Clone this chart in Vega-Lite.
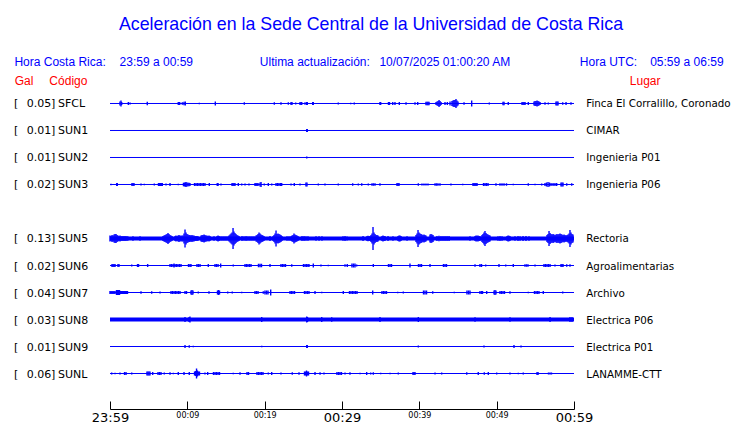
{
"$schema": "https://vega.github.io/schema/vega-lite/v6.json",
"width": 464, "height": 333,
"autosize": {"type": "none"},
"padding": {"left": 110, "top": 76, "right": 166, "bottom": 14},
"background": "white",
"config": {"view": {"stroke": null}, "font": "DejaVu Sans"},
"title": {"text": "Aceleración en la Sede Central de la Universidad de Costa Rica", "font": "Liberation Sans", "fontSize": 17.8, "fontWeight": "normal", "color": "#0000ff", "anchor": "middle", "dx": 29, "offset": 8, "baseline": "alphabetic"},
"datasets": {
"stations": [
{"code":"SFCL","gal":0.05,"lugar":"Finca El Corralillo, Coronado","slot":1,"noise":0.006},
{"code":"SUN1","gal":0.01,"lugar":"CIMAR","slot":2,"noise":0.006},
{"code":"SUN2","gal":0.01,"lugar":"Ingenieria P01","slot":3,"noise":0.006},
{"code":"SUN3","gal":0.02,"lugar":"Ingenieria P06","slot":4,"noise":0.006},
{"code":"SUN5","gal":0.13,"lugar":"Rectoria","slot":6,"noise":0.024},
{"code":"SUN6","gal":0.02,"lugar":"Agroalimentarias","slot":7,"noise":0.006},
{"code":"SUN7","gal":0.04,"lugar":"Archivo","slot":8,"noise":0.006},
{"code":"SUN8","gal":0.03,"lugar":"Electrica P06","slot":9,"noise":0.024},
{"code":"SUN9","gal":0.01,"lugar":"Electrica P01","slot":10,"noise":0.006},
{"code":"SUNL","gal":0.06,"lugar":"LANAMME-CTT","slot":11,"noise":0.006}
],
"wave": [
{"code":"SFCL","t":1.29,"amp":0.024},{"code":"SFCL","t":1.42,"amp":0.036},{"code":"SFCL","t":1.51,"amp":0.018},{"code":"SFCL","t":2.37,"amp":0.018},{"code":"SFCL","t":2.59,"amp":0.012},{"code":"SFCL","t":4.82,"amp":0.021},{"code":"SFCL","t":8.83,"amp":0.018},{"code":"SFCL","t":9.01,"amp":0.018},{"code":"SFCL","t":9.35,"amp":0.015},{"code":"SFCL","t":9.57,"amp":0.021},{"code":"SFCL","t":9.74,"amp":0.024},{"code":"SFCL","t":11.55,"amp":0.009},{"code":"SFCL","t":13.62,"amp":0.024},{"code":"SFCL","t":17.37,"amp":0.015},{"code":"SFCL","t":21.25,"amp":0.015},{"code":"SFCL","t":22.11,"amp":0.015},{"code":"SFCL","t":23.06,"amp":0.015},{"code":"SFCL","t":23.41,"amp":0.018},{"code":"SFCL","t":23.53,"amp":0.018},{"code":"SFCL","t":24.01,"amp":0.012},{"code":"SFCL","t":24.57,"amp":0.018},{"code":"SFCL","t":24.7,"amp":0.018},{"code":"SFCL","t":24.79,"amp":0.018},{"code":"SFCL","t":25.22,"amp":0.015},{"code":"SFCL","t":25.44,"amp":0.018},{"code":"SFCL","t":25.51,"amp":0.018},{"code":"SFCL","t":26.21,"amp":0.018},{"code":"SFCL","t":26.29,"amp":0.018},{"code":"SFCL","t":29.52,"amp":0.012},{"code":"SFCL","t":31.12,"amp":0.009},{"code":"SFCL","t":31.59,"amp":0.012},{"code":"SFCL","t":34.91,"amp":0.018},{"code":"SFCL","t":35.0,"amp":0.018},{"code":"SFCL","t":36.01,"amp":0.018},{"code":"SFCL","t":36.14,"amp":0.018},{"code":"SFCL","t":36.56,"amp":0.018},{"code":"SFCL","t":36.85,"amp":0.018},{"code":"SFCL","t":37.41,"amp":0.018},{"code":"SFCL","t":38.28,"amp":0.015},{"code":"SFCL","t":39.44,"amp":0.015},{"code":"SFCL","t":39.79,"amp":0.018},{"code":"SFCL","t":40.86,"amp":0.021},{"code":"SFCL","t":41.0,"amp":0.021},{"code":"SFCL","t":41.12,"amp":0.021},{"code":"SFCL","t":41.25,"amp":0.021},{"code":"SFCL","t":42.16,"amp":0.018},{"code":"SFCL","t":42.29,"amp":0.024},{"code":"SFCL","t":42.42,"amp":0.03},{"code":"SFCL","t":42.55,"amp":0.042},{"code":"SFCL","t":42.68,"amp":0.03},{"code":"SFCL","t":42.81,"amp":0.018},{"code":"SFCL","t":43.32,"amp":0.018},{"code":"SFCL","t":43.62,"amp":0.018},{"code":"SFCL","t":43.97,"amp":0.024},{"code":"SFCL","t":44.22,"amp":0.03},{"code":"SFCL","t":44.35,"amp":0.036},{"code":"SFCL","t":44.48,"amp":0.042},{"code":"SFCL","t":44.61,"amp":0.042},{"code":"SFCL","t":44.74,"amp":0.054},{"code":"SFCL","t":44.87,"amp":0.036},{"code":"SFCL","t":45.0,"amp":0.024},{"code":"SFCL","t":45.78,"amp":0.015},{"code":"SFCL","t":46.77,"amp":0.036},{"code":"SFCL","t":49.05,"amp":0.012},{"code":"SFCL","t":50.82,"amp":0.021},{"code":"SFCL","t":50.95,"amp":0.021},{"code":"SFCL","t":51.5,"amp":0.018},{"code":"SFCL","t":53.28,"amp":0.018},{"code":"SFCL","t":53.41,"amp":0.018},{"code":"SFCL","t":53.54,"amp":0.018},{"code":"SFCL","t":53.67,"amp":0.018},{"code":"SFCL","t":54.09,"amp":0.018},{"code":"SFCL","t":54.83,"amp":0.024},{"code":"SFCL","t":54.96,"amp":0.03},{"code":"SFCL","t":55.09,"amp":0.03},{"code":"SFCL","t":55.22,"amp":0.036},{"code":"SFCL","t":55.35,"amp":0.03},{"code":"SFCL","t":55.48,"amp":0.024},{"code":"SFCL","t":55.61,"amp":0.018},{"code":"SFCL","t":56.25,"amp":0.015},{"code":"SFCL","t":56.68,"amp":0.012},{"code":"SFCL","t":57.67,"amp":0.024},{"code":"SFCL","t":57.8,"amp":0.024},{"code":"SFCL","t":57.93,"amp":0.024},{"code":"SFCL","t":58.54,"amp":0.015},{"code":"SFCL","t":58.97,"amp":0.018},{"code":"SFCL","t":59.61,"amp":0.015},
{"code":"SUN1","t":25.44,"amp":0.018},{"code":"SUN1","t":25.51,"amp":0.018},
{"code":"SUN2","t":25.44,"amp":0.012},
{"code":"SUN3","t":0.13,"amp":0.009},{"code":"SUN3","t":0.87,"amp":0.018},{"code":"SUN3","t":0.94,"amp":0.018},{"code":"SUN3","t":2.84,"amp":0.018},{"code":"SUN3","t":2.97,"amp":0.018},{"code":"SUN3","t":3.1,"amp":0.018},{"code":"SUN3","t":4.01,"amp":0.012},{"code":"SUN3","t":4.44,"amp":0.009},{"code":"SUN3","t":5.73,"amp":0.012},{"code":"SUN3","t":6.27,"amp":0.018},{"code":"SUN3","t":6.4,"amp":0.018},{"code":"SUN3","t":6.53,"amp":0.018},{"code":"SUN3","t":6.66,"amp":0.018},{"code":"SUN3","t":6.76,"amp":0.018},{"code":"SUN3","t":7.24,"amp":0.012},{"code":"SUN3","t":7.76,"amp":0.018},{"code":"SUN3","t":8.83,"amp":0.009},{"code":"SUN3","t":9.5,"amp":0.021},{"code":"SUN3","t":9.63,"amp":0.024},{"code":"SUN3","t":9.76,"amp":0.024},{"code":"SUN3","t":9.83,"amp":0.03},{"code":"SUN3","t":9.96,"amp":0.024},{"code":"SUN3","t":10.09,"amp":0.021},{"code":"SUN3","t":10.22,"amp":0.021},{"code":"SUN3","t":10.34,"amp":0.018},{"code":"SUN3","t":10.93,"amp":0.018},{"code":"SUN3","t":11.12,"amp":0.018},{"code":"SUN3","t":11.31,"amp":0.018},{"code":"SUN3","t":11.51,"amp":0.018},{"code":"SUN3","t":11.7,"amp":0.018},{"code":"SUN3","t":11.9,"amp":0.018},{"code":"SUN3","t":12.09,"amp":0.018},{"code":"SUN3","t":12.28,"amp":0.018},{"code":"SUN3","t":12.84,"amp":0.018},{"code":"SUN3","t":13.87,"amp":0.018},{"code":"SUN3","t":13.97,"amp":0.018},{"code":"SUN3","t":14.35,"amp":0.012},{"code":"SUN3","t":15.78,"amp":0.018},{"code":"SUN3","t":15.9,"amp":0.018},{"code":"SUN3","t":16.03,"amp":0.018},{"code":"SUN3","t":16.16,"amp":0.018},{"code":"SUN3","t":16.59,"amp":0.018},{"code":"SUN3","t":17.03,"amp":0.012},{"code":"SUN3","t":17.46,"amp":0.012},{"code":"SUN3","t":17.97,"amp":0.012},{"code":"SUN3","t":18.75,"amp":0.018},{"code":"SUN3","t":18.88,"amp":0.018},{"code":"SUN3","t":19.01,"amp":0.018},{"code":"SUN3","t":19.14,"amp":0.018},{"code":"SUN3","t":19.4,"amp":0.024},{"code":"SUN3","t":19.53,"amp":0.03},{"code":"SUN3","t":19.95,"amp":0.012},{"code":"SUN3","t":20.47,"amp":0.018},{"code":"SUN3","t":20.91,"amp":0.012},{"code":"SUN3","t":21.47,"amp":0.018},{"code":"SUN3","t":21.66,"amp":0.018},{"code":"SUN3","t":21.85,"amp":0.018},{"code":"SUN3","t":22.05,"amp":0.018},{"code":"SUN3","t":22.2,"amp":0.018},{"code":"SUN3","t":23.41,"amp":0.012},{"code":"SUN3","t":23.83,"amp":0.018},{"code":"SUN3","t":24.57,"amp":0.012},{"code":"SUN3","t":25.34,"amp":0.024},{"code":"SUN3","t":25.47,"amp":0.024},{"code":"SUN3","t":26.94,"amp":0.012},{"code":"SUN3","t":27.8,"amp":0.012},{"code":"SUN3","t":29.52,"amp":0.012},{"code":"SUN3","t":31.38,"amp":0.015},{"code":"SUN3","t":32.11,"amp":0.012},{"code":"SUN3","t":32.55,"amp":0.015},{"code":"SUN3","t":33.4,"amp":0.012},{"code":"SUN3","t":33.88,"amp":0.015},{"code":"SUN3","t":34.07,"amp":0.015},{"code":"SUN3","t":34.27,"amp":0.015},{"code":"SUN3","t":34.91,"amp":0.015},{"code":"SUN3","t":37.11,"amp":0.018},{"code":"SUN3","t":37.24,"amp":0.018},{"code":"SUN3","t":37.37,"amp":0.018},{"code":"SUN3","t":39.87,"amp":0.015},{"code":"SUN3","t":40.34,"amp":0.012},{"code":"SUN3","t":40.6,"amp":0.012},{"code":"SUN3","t":40.86,"amp":0.012},{"code":"SUN3","t":41.12,"amp":0.012},{"code":"SUN3","t":42.03,"amp":0.015},{"code":"SUN3","t":42.22,"amp":0.015},{"code":"SUN3","t":42.41,"amp":0.015},{"code":"SUN3","t":42.67,"amp":0.015},{"code":"SUN3","t":44.09,"amp":0.012},{"code":"SUN3","t":45.61,"amp":0.009},{"code":"SUN3","t":46.94,"amp":0.018},{"code":"SUN3","t":47.07,"amp":0.018},{"code":"SUN3","t":47.2,"amp":0.018},{"code":"SUN3","t":47.33,"amp":0.018},{"code":"SUN3","t":47.46,"amp":0.018},{"code":"SUN3","t":48.3,"amp":0.018},{"code":"SUN3","t":48.49,"amp":0.018},{"code":"SUN3","t":48.68,"amp":0.018},{"code":"SUN3","t":48.88,"amp":0.018},{"code":"SUN3","t":49.91,"amp":0.015},{"code":"SUN3","t":50.43,"amp":0.015},{"code":"SUN3","t":50.69,"amp":0.015},{"code":"SUN3","t":50.95,"amp":0.015},{"code":"SUN3","t":51.27,"amp":0.015},{"code":"SUN3","t":52.15,"amp":0.009},{"code":"SUN3","t":54.09,"amp":0.015},{"code":"SUN3","t":54.96,"amp":0.009},{"code":"SUN3","t":55.82,"amp":0.012},{"code":"SUN3","t":56.25,"amp":0.018},{"code":"SUN3","t":56.44,"amp":0.024},{"code":"SUN3","t":56.64,"amp":0.03},{"code":"SUN3","t":56.83,"amp":0.024},{"code":"SUN3","t":57.03,"amp":0.018},{"code":"SUN3","t":57.29,"amp":0.018},{"code":"SUN3","t":57.54,"amp":0.018},{"code":"SUN3","t":57.76,"amp":0.018},{"code":"SUN3","t":58.32,"amp":0.024},{"code":"SUN3","t":58.45,"amp":0.024},{"code":"SUN3","t":58.58,"amp":0.024},{"code":"SUN3","t":59.06,"amp":0.015},{"code":"SUN3","t":59.7,"amp":0.015},
{"code":"SUN5","t":0.0,"amp":0.036},{"code":"SUN5","t":0.13,"amp":0.03},{"code":"SUN5","t":0.26,"amp":0.042},{"code":"SUN5","t":0.39,"amp":0.036},{"code":"SUN5","t":0.52,"amp":0.048},{"code":"SUN5","t":0.65,"amp":0.054},{"code":"SUN5","t":0.78,"amp":0.054},{"code":"SUN5","t":0.91,"amp":0.042},{"code":"SUN5","t":1.03,"amp":0.036},{"code":"SUN5","t":1.16,"amp":0.03},{"code":"SUN5","t":1.29,"amp":0.036},{"code":"SUN5","t":1.42,"amp":0.03},{"code":"SUN5","t":1.55,"amp":0.027},{"code":"SUN5","t":1.68,"amp":0.03},{"code":"SUN5","t":1.81,"amp":0.027},{"code":"SUN5","t":1.94,"amp":0.03},{"code":"SUN5","t":2.07,"amp":0.027},{"code":"SUN5","t":2.2,"amp":0.027},{"code":"SUN5","t":2.33,"amp":0.024},{"code":"SUN5","t":2.97,"amp":0.027},{"code":"SUN5","t":3.88,"amp":0.027},
{"code":"SUN5","t":6.85,"amp":0.03},{"code":"SUN5","t":6.98,"amp":0.036},{"code":"SUN5","t":7.11,"amp":0.042},{"code":"SUN5","t":7.24,"amp":0.048},{"code":"SUN5","t":7.37,"amp":0.054},{"code":"SUN5","t":7.5,"amp":0.066},{"code":"SUN5","t":7.63,"amp":0.054},{"code":"SUN5","t":7.76,"amp":0.042},{"code":"SUN5","t":7.89,"amp":0.036},{"code":"SUN5","t":8.02,"amp":0.03},{"code":"SUN5","t":8.41,"amp":0.03},{"code":"SUN5","t":8.53,"amp":0.036},{"code":"SUN5","t":8.66,"amp":0.03},{"code":"SUN5","t":8.79,"amp":0.036},{"code":"SUN5","t":8.92,"amp":0.042},{"code":"SUN5","t":9.05,"amp":0.036},{"code":"SUN5","t":9.18,"amp":0.033},{"code":"SUN5","t":9.31,"amp":0.036},{"code":"SUN5","t":9.44,"amp":0.036},{"code":"SUN5","t":9.57,"amp":0.06},{"code":"SUN5","t":9.7,"amp":0.108},{"code":"SUN5","t":9.83,"amp":0.072},{"code":"SUN5","t":9.96,"amp":0.054},{"code":"SUN5","t":10.09,"amp":0.048},{"code":"SUN5","t":10.22,"amp":0.042},{"code":"SUN5","t":10.34,"amp":0.042},{"code":"SUN5","t":10.47,"amp":0.036},{"code":"SUN5","t":10.6,"amp":0.042},{"code":"SUN5","t":10.73,"amp":0.036},{"code":"SUN5","t":10.86,"amp":0.036},{"code":"SUN5","t":10.99,"amp":0.03},{"code":"SUN5","t":11.12,"amp":0.03},{"code":"SUN5","t":11.25,"amp":0.03},{"code":"SUN5","t":11.38,"amp":0.027},{"code":"SUN5","t":11.77,"amp":0.036},{"code":"SUN5","t":11.9,"amp":0.042},{"code":"SUN5","t":12.03,"amp":0.042},{"code":"SUN5","t":12.16,"amp":0.048},{"code":"SUN5","t":12.28,"amp":0.042},{"code":"SUN5","t":12.41,"amp":0.036},{"code":"SUN5","t":12.54,"amp":0.036},{"code":"SUN5","t":12.67,"amp":0.03},{"code":"SUN5","t":12.8,"amp":0.036},{"code":"SUN5","t":12.93,"amp":0.03},{"code":"SUN5","t":13.45,"amp":0.027},{"code":"SUN5","t":13.84,"amp":0.03},{"code":"SUN5","t":13.97,"amp":0.036},{"code":"SUN5","t":14.09,"amp":0.03},{"code":"SUN5","t":14.22,"amp":0.027},{"code":"SUN5","t":14.48,"amp":0.027},{"code":"SUN5","t":14.74,"amp":0.027},{"code":"SUN5","t":15.0,"amp":0.027},{"code":"SUN5","t":15.26,"amp":0.027},{"code":"SUN5","t":15.39,"amp":0.036},{"code":"SUN5","t":15.52,"amp":0.048},{"code":"SUN5","t":15.65,"amp":0.06},{"code":"SUN5","t":15.78,"amp":0.072},{"code":"SUN5","t":15.91,"amp":0.126},{"code":"SUN5","t":16.03,"amp":0.084},{"code":"SUN5","t":16.16,"amp":0.066},{"code":"SUN5","t":16.29,"amp":0.054},{"code":"SUN5","t":16.42,"amp":0.042},{"code":"SUN5","t":16.55,"amp":0.036},{"code":"SUN5","t":16.68,"amp":0.03},{"code":"SUN5","t":17.07,"amp":0.03},{"code":"SUN5","t":17.33,"amp":0.027},{"code":"SUN5","t":17.59,"amp":0.03},{"code":"SUN5","t":17.84,"amp":0.027},{"code":"SUN5","t":18.1,"amp":0.027},{"code":"SUN5","t":18.36,"amp":0.027},{"code":"SUN5","t":18.62,"amp":0.027},{"code":"SUN5","t":18.88,"amp":0.036},{"code":"SUN5","t":19.01,"amp":0.042},{"code":"SUN5","t":19.14,"amp":0.054},{"code":"SUN5","t":19.27,"amp":0.072},{"code":"SUN5","t":19.4,"amp":0.06},{"code":"SUN5","t":19.53,"amp":0.048},{"code":"SUN5","t":19.66,"amp":0.042},{"code":"SUN5","t":19.78,"amp":0.036},{"code":"SUN5","t":19.91,"amp":0.03},{"code":"SUN5","t":20.69,"amp":0.03},{"code":"SUN5","t":21.08,"amp":0.03},{"code":"SUN5","t":21.21,"amp":0.042},{"code":"SUN5","t":21.34,"amp":0.06},{"code":"SUN5","t":21.47,"amp":0.096},{"code":"SUN5","t":21.59,"amp":0.054},{"code":"SUN5","t":21.72,"amp":0.06},{"code":"SUN5","t":21.85,"amp":0.054},{"code":"SUN5","t":21.98,"amp":0.048},{"code":"SUN5","t":22.11,"amp":0.042},{"code":"SUN5","t":22.24,"amp":0.03},{"code":"SUN5","t":22.89,"amp":0.027},{"code":"SUN5","t":23.15,"amp":0.027},{"code":"SUN5","t":23.41,"amp":0.03},{"code":"SUN5","t":23.53,"amp":0.036},{"code":"SUN5","t":23.66,"amp":0.042},{"code":"SUN5","t":23.79,"amp":0.06},{"code":"SUN5","t":23.92,"amp":0.048},{"code":"SUN5","t":24.05,"amp":0.042},{"code":"SUN5","t":24.18,"amp":0.036},{"code":"SUN5","t":24.31,"amp":0.03},{"code":"SUN5","t":24.83,"amp":0.03},{"code":"SUN5","t":25.09,"amp":0.03},{"code":"SUN5","t":25.34,"amp":0.027},{"code":"SUN5","t":25.6,"amp":0.027},{"code":"SUN5","t":26.64,"amp":0.027},{"code":"SUN5","t":27.03,"amp":0.027},{"code":"SUN5","t":27.41,"amp":0.027},{"code":"SUN5","t":30.13,"amp":0.027},{"code":"SUN5","t":30.39,"amp":0.03},{"code":"SUN5","t":30.65,"amp":0.024},{"code":"SUN5","t":32.72,"amp":0.03},{"code":"SUN5","t":33.23,"amp":0.03},{"code":"SUN5","t":33.36,"amp":0.033},{"code":"SUN5","t":33.49,"amp":0.03},{"code":"SUN5","t":33.62,"amp":0.03},{"code":"SUN5","t":33.75,"amp":0.042},{"code":"SUN5","t":33.88,"amp":0.06},{"code":"SUN5","t":34.01,"amp":0.138},{"code":"SUN5","t":34.14,"amp":0.072},{"code":"SUN5","t":34.27,"amp":0.054},{"code":"SUN5","t":34.4,"amp":0.042},{"code":"SUN5","t":34.53,"amp":0.042},{"code":"SUN5","t":34.66,"amp":0.036},{"code":"SUN5","t":35.17,"amp":0.03},{"code":"SUN5","t":35.3,"amp":0.036},{"code":"SUN5","t":35.43,"amp":0.03},{"code":"SUN5","t":35.56,"amp":0.03},{"code":"SUN5","t":35.95,"amp":0.03},{"code":"SUN5","t":36.59,"amp":0.027},{"code":"SUN5","t":37.24,"amp":0.03},{"code":"SUN5","t":37.37,"amp":0.036},{"code":"SUN5","t":37.5,"amp":0.036},{"code":"SUN5","t":37.63,"amp":0.03},{"code":"SUN5","t":38.41,"amp":0.027},{"code":"SUN5","t":39.57,"amp":0.042},{"code":"SUN5","t":39.7,"amp":0.06},{"code":"SUN5","t":39.83,"amp":0.102},{"code":"SUN5","t":39.96,"amp":0.072},{"code":"SUN5","t":40.09,"amp":0.06},{"code":"SUN5","t":40.22,"amp":0.054},{"code":"SUN5","t":40.34,"amp":0.048},{"code":"SUN5","t":40.47,"amp":0.042},{"code":"SUN5","t":40.6,"amp":0.048},{"code":"SUN5","t":40.73,"amp":0.042},{"code":"SUN5","t":40.86,"amp":0.036},{"code":"SUN5","t":41.38,"amp":0.048},{"code":"SUN5","t":41.51,"amp":0.054},{"code":"SUN5","t":41.64,"amp":0.048},{"code":"SUN5","t":41.77,"amp":0.042},{"code":"SUN5","t":42.28,"amp":0.03},{"code":"SUN5","t":42.54,"amp":0.033},{"code":"SUN5","t":42.8,"amp":0.03},{"code":"SUN5","t":43.06,"amp":0.03},{"code":"SUN5","t":43.32,"amp":0.03},{"code":"SUN5","t":43.58,"amp":0.03},{"code":"SUN5","t":43.84,"amp":0.03},{"code":"SUN5","t":46.55,"amp":0.027},{"code":"SUN5","t":47.2,"amp":0.03},{"code":"SUN5","t":47.33,"amp":0.036},{"code":"SUN5","t":47.46,"amp":0.033},{"code":"SUN5","t":47.59,"amp":0.036},{"code":"SUN5","t":47.72,"amp":0.03},{"code":"SUN5","t":47.84,"amp":0.03},{"code":"SUN5","t":48.1,"amp":0.042},{"code":"SUN5","t":48.23,"amp":0.054},{"code":"SUN5","t":48.36,"amp":0.072},{"code":"SUN5","t":48.49,"amp":0.09},{"code":"SUN5","t":48.62,"amp":0.066},{"code":"SUN5","t":48.75,"amp":0.054},{"code":"SUN5","t":48.88,"amp":0.048},{"code":"SUN5","t":49.01,"amp":0.042},{"code":"SUN5","t":49.14,"amp":0.036},{"code":"SUN5","t":50.17,"amp":0.027},{"code":"SUN5","t":50.43,"amp":0.03},{"code":"SUN5","t":50.69,"amp":0.027},{"code":"SUN5","t":51.34,"amp":0.03},{"code":"SUN5","t":51.47,"amp":0.036},{"code":"SUN5","t":51.6,"amp":0.033},{"code":"SUN5","t":51.72,"amp":0.03},{"code":"SUN5","t":52.37,"amp":0.027},{"code":"SUN5","t":52.76,"amp":0.03},{"code":"SUN5","t":53.02,"amp":0.027},{"code":"SUN5","t":53.41,"amp":0.03},{"code":"SUN5","t":53.79,"amp":0.03},{"code":"SUN5","t":54.18,"amp":0.027},{"code":"SUN5","t":56.51,"amp":0.042},{"code":"SUN5","t":56.64,"amp":0.054},{"code":"SUN5","t":56.77,"amp":0.09},{"code":"SUN5","t":56.9,"amp":0.066},{"code":"SUN5","t":57.03,"amp":0.054},{"code":"SUN5","t":57.16,"amp":0.048},{"code":"SUN5","t":57.29,"amp":0.054},{"code":"SUN5","t":57.41,"amp":0.048},{"code":"SUN5","t":57.54,"amp":0.042},{"code":"SUN5","t":57.67,"amp":0.048},{"code":"SUN5","t":57.8,"amp":0.054},{"code":"SUN5","t":57.93,"amp":0.048},{"code":"SUN5","t":58.06,"amp":0.054},{"code":"SUN5","t":58.19,"amp":0.06},{"code":"SUN5","t":58.32,"amp":0.054},{"code":"SUN5","t":58.45,"amp":0.048},{"code":"SUN5","t":58.58,"amp":0.042},{"code":"SUN5","t":58.71,"amp":0.048},{"code":"SUN5","t":58.84,"amp":0.042},{"code":"SUN5","t":58.97,"amp":0.036},{"code":"SUN5","t":59.1,"amp":0.042},{"code":"SUN5","t":59.23,"amp":0.048},{"code":"SUN5","t":59.36,"amp":0.06},{"code":"SUN5","t":59.48,"amp":0.102},{"code":"SUN5","t":59.61,"amp":0.072},{"code":"SUN5","t":59.74,"amp":0.054},{"code":"SUN5","t":59.87,"amp":0.048},
{"code":"SUN6","t":0.26,"amp":0.018},{"code":"SUN6","t":0.39,"amp":0.018},{"code":"SUN6","t":0.52,"amp":0.018},{"code":"SUN6","t":0.65,"amp":0.018},{"code":"SUN6","t":1.03,"amp":0.018},{"code":"SUN6","t":1.16,"amp":0.018},{"code":"SUN6","t":2.81,"amp":0.012},{"code":"SUN6","t":3.56,"amp":0.018},{"code":"SUN6","t":3.69,"amp":0.018},{"code":"SUN6","t":4.87,"amp":0.018},{"code":"SUN6","t":7.76,"amp":0.018},{"code":"SUN6","t":7.95,"amp":0.018},{"code":"SUN6","t":8.15,"amp":0.018},{"code":"SUN6","t":8.28,"amp":0.024},{"code":"SUN6","t":8.41,"amp":0.018},{"code":"SUN6","t":8.6,"amp":0.018},{"code":"SUN6","t":8.79,"amp":0.018},{"code":"SUN6","t":8.99,"amp":0.018},{"code":"SUN6","t":9.18,"amp":0.018},{"code":"SUN6","t":10.15,"amp":0.018},{"code":"SUN6","t":10.34,"amp":0.018},{"code":"SUN6","t":10.47,"amp":0.018},{"code":"SUN6","t":11.25,"amp":0.018},{"code":"SUN6","t":11.44,"amp":0.018},{"code":"SUN6","t":11.64,"amp":0.018},{"code":"SUN6","t":12.71,"amp":0.018},{"code":"SUN6","t":13.58,"amp":0.018},{"code":"SUN6","t":13.77,"amp":0.018},{"code":"SUN6","t":13.97,"amp":0.018},{"code":"SUN6","t":14.31,"amp":0.024},{"code":"SUN6","t":15.94,"amp":0.012},{"code":"SUN6","t":17.46,"amp":0.018},{"code":"SUN6","t":17.65,"amp":0.018},{"code":"SUN6","t":17.84,"amp":0.018},{"code":"SUN6","t":18.04,"amp":0.018},{"code":"SUN6","t":18.23,"amp":0.018},{"code":"SUN6","t":19.2,"amp":0.021},{"code":"SUN6","t":19.4,"amp":0.021},{"code":"SUN6","t":19.59,"amp":0.021},{"code":"SUN6","t":20.69,"amp":0.018},{"code":"SUN6","t":22.11,"amp":0.018},{"code":"SUN6","t":22.31,"amp":0.018},{"code":"SUN6","t":22.5,"amp":0.018},{"code":"SUN6","t":22.69,"amp":0.018},{"code":"SUN6","t":23.5,"amp":0.015},{"code":"SUN6","t":25.02,"amp":0.018},{"code":"SUN6","t":25.22,"amp":0.018},{"code":"SUN6","t":25.41,"amp":0.018},{"code":"SUN6","t":25.6,"amp":0.018},{"code":"SUN6","t":25.73,"amp":0.018},{"code":"SUN6","t":26.29,"amp":0.024},{"code":"SUN6","t":27.28,"amp":0.012},{"code":"SUN6","t":28.23,"amp":0.009},{"code":"SUN6","t":30.39,"amp":0.015},{"code":"SUN6","t":30.68,"amp":0.018},{"code":"SUN6","t":31.29,"amp":0.024},{"code":"SUN6","t":31.49,"amp":0.024},{"code":"SUN6","t":31.68,"amp":0.024},{"code":"SUN6","t":31.9,"amp":0.012},{"code":"SUN6","t":34.05,"amp":0.018},{"code":"SUN6","t":36.01,"amp":0.018},{"code":"SUN6","t":36.21,"amp":0.018},{"code":"SUN6","t":36.4,"amp":0.018},{"code":"SUN6","t":38.79,"amp":0.024},{"code":"SUN6","t":39.89,"amp":0.018},{"code":"SUN6","t":40.09,"amp":0.018},{"code":"SUN6","t":40.28,"amp":0.018},{"code":"SUN6","t":41.38,"amp":0.018},{"code":"SUN6","t":43.12,"amp":0.018},{"code":"SUN6","t":43.32,"amp":0.018},{"code":"SUN6","t":43.51,"amp":0.018},{"code":"SUN6","t":47.2,"amp":0.015},{"code":"SUN6","t":47.84,"amp":0.018},{"code":"SUN6","t":48.04,"amp":0.018},{"code":"SUN6","t":48.58,"amp":0.012},{"code":"SUN6","t":50.3,"amp":0.018},{"code":"SUN6","t":51.17,"amp":0.012},{"code":"SUN6","t":52.15,"amp":0.018},{"code":"SUN6","t":53.66,"amp":0.015},{"code":"SUN6","t":53.86,"amp":0.015},{"code":"SUN6","t":54.05,"amp":0.015},{"code":"SUN6","t":54.96,"amp":0.012},{"code":"SUN6","t":56.12,"amp":0.018},{"code":"SUN6","t":56.31,"amp":0.018},{"code":"SUN6","t":56.51,"amp":0.018},{"code":"SUN6","t":56.7,"amp":0.018},{"code":"SUN6","t":56.9,"amp":0.018},{"code":"SUN6","t":57.54,"amp":0.012},{"code":"SUN6","t":58.32,"amp":0.018},{"code":"SUN6","t":58.45,"amp":0.018},{"code":"SUN6","t":58.58,"amp":0.018},{"code":"SUN6","t":59.06,"amp":0.015},{"code":"SUN6","t":59.48,"amp":0.015},
{"code":"SUN7","t":0.0,"amp":0.018},{"code":"SUN7","t":0.13,"amp":0.018},{"code":"SUN7","t":0.26,"amp":0.018},{"code":"SUN7","t":0.39,"amp":0.018},{"code":"SUN7","t":0.52,"amp":0.018},{"code":"SUN7","t":0.65,"amp":0.018},{"code":"SUN7","t":0.84,"amp":0.03},{"code":"SUN7","t":0.97,"amp":0.03},{"code":"SUN7","t":1.1,"amp":0.03},{"code":"SUN7","t":1.23,"amp":0.03},{"code":"SUN7","t":1.36,"amp":0.018},{"code":"SUN7","t":1.49,"amp":0.018},{"code":"SUN7","t":1.62,"amp":0.018},{"code":"SUN7","t":1.75,"amp":0.018},{"code":"SUN7","t":1.88,"amp":0.018},{"code":"SUN7","t":2.0,"amp":0.018},{"code":"SUN7","t":2.13,"amp":0.018},{"code":"SUN7","t":2.26,"amp":0.018},{"code":"SUN7","t":4.01,"amp":0.015},{"code":"SUN7","t":5.39,"amp":0.015},{"code":"SUN7","t":6.47,"amp":0.012},{"code":"SUN7","t":7.89,"amp":0.018},{"code":"SUN7","t":8.08,"amp":0.018},{"code":"SUN7","t":8.28,"amp":0.018},{"code":"SUN7","t":8.47,"amp":0.018},{"code":"SUN7","t":8.66,"amp":0.018},{"code":"SUN7","t":8.86,"amp":0.018},{"code":"SUN7","t":9.05,"amp":0.018},{"code":"SUN7","t":9.7,"amp":0.018},{"code":"SUN7","t":9.89,"amp":0.018},{"code":"SUN7","t":10.47,"amp":0.024},{"code":"SUN7","t":10.6,"amp":0.03},{"code":"SUN7","t":10.73,"amp":0.024},{"code":"SUN7","t":11.42,"amp":0.012},{"code":"SUN7","t":12.8,"amp":0.015},{"code":"SUN7","t":13.9,"amp":0.024},{"code":"SUN7","t":14.03,"amp":0.03},{"code":"SUN7","t":14.16,"amp":0.024},{"code":"SUN7","t":15.22,"amp":0.012},{"code":"SUN7","t":15.81,"amp":0.012},{"code":"SUN7","t":17.03,"amp":0.009},{"code":"SUN7","t":18.75,"amp":0.018},{"code":"SUN7","t":18.94,"amp":0.018},{"code":"SUN7","t":19.14,"amp":0.018},{"code":"SUN7","t":19.82,"amp":0.015},{"code":"SUN7","t":20.04,"amp":0.024},{"code":"SUN7","t":20.24,"amp":0.024},{"code":"SUN7","t":20.43,"amp":0.024},{"code":"SUN7","t":20.78,"amp":0.036},{"code":"SUN7","t":23.28,"amp":0.018},{"code":"SUN7","t":23.47,"amp":0.018},{"code":"SUN7","t":23.66,"amp":0.018},{"code":"SUN7","t":23.86,"amp":0.018},{"code":"SUN7","t":25.15,"amp":0.018},{"code":"SUN7","t":25.34,"amp":0.018},{"code":"SUN7","t":25.54,"amp":0.018},{"code":"SUN7","t":25.73,"amp":0.018},{"code":"SUN7","t":26.51,"amp":0.018},{"code":"SUN7","t":27.38,"amp":0.009},{"code":"SUN7","t":30.17,"amp":0.018},{"code":"SUN7","t":30.97,"amp":0.018},{"code":"SUN7","t":31.16,"amp":0.018},{"code":"SUN7","t":31.36,"amp":0.018},{"code":"SUN7","t":31.55,"amp":0.018},{"code":"SUN7","t":31.75,"amp":0.018},{"code":"SUN7","t":31.94,"amp":0.018},{"code":"SUN7","t":33.97,"amp":0.024},{"code":"SUN7","t":35.17,"amp":0.018},{"code":"SUN7","t":35.37,"amp":0.018},{"code":"SUN7","t":35.56,"amp":0.018},{"code":"SUN7","t":35.75,"amp":0.018},{"code":"SUN7","t":37.2,"amp":0.009},{"code":"SUN7","t":37.93,"amp":0.012},{"code":"SUN7","t":40.54,"amp":0.024},{"code":"SUN7","t":40.73,"amp":0.024},{"code":"SUN7","t":40.93,"amp":0.024},{"code":"SUN7","t":41.73,"amp":0.015},{"code":"SUN7","t":44.52,"amp":0.009},{"code":"SUN7","t":46.16,"amp":0.024},{"code":"SUN7","t":46.36,"amp":0.024},{"code":"SUN7","t":46.55,"amp":0.024},{"code":"SUN7","t":47.84,"amp":0.018},{"code":"SUN7","t":48.04,"amp":0.018},{"code":"SUN7","t":48.17,"amp":0.018},{"code":"SUN7","t":48.71,"amp":0.018},{"code":"SUN7","t":49.66,"amp":0.024},{"code":"SUN7","t":49.78,"amp":0.03},{"code":"SUN7","t":49.91,"amp":0.024},{"code":"SUN7","t":50.43,"amp":0.018},{"code":"SUN7","t":50.62,"amp":0.018},{"code":"SUN7","t":50.82,"amp":0.018},{"code":"SUN7","t":51.01,"amp":0.018},{"code":"SUN7","t":51.72,"amp":0.015},{"code":"SUN7","t":54.09,"amp":0.009},{"code":"SUN7","t":54.89,"amp":0.018},{"code":"SUN7","t":55.09,"amp":0.018},{"code":"SUN7","t":55.28,"amp":0.018},{"code":"SUN7","t":55.47,"amp":0.018},{"code":"SUN7","t":56.03,"amp":0.018},{"code":"SUN7","t":58.54,"amp":0.012},
{"code":"SUN8","t":9.7,"amp":0.03},{"code":"SUN8","t":10.22,"amp":0.03},{"code":"SUN8","t":10.34,"amp":0.036},{"code":"SUN8","t":19.62,"amp":0.03},{"code":"SUN8","t":25.44,"amp":0.036},{"code":"SUN8","t":25.54,"amp":0.03},{"code":"SUN8","t":27.38,"amp":0.03},{"code":"SUN8","t":28.67,"amp":0.027},{"code":"SUN8","t":34.91,"amp":0.03},{"code":"SUN8","t":39.87,"amp":0.03},{"code":"SUN8","t":47.2,"amp":0.027},{"code":"SUN8","t":51.72,"amp":0.027},{"code":"SUN8","t":56.9,"amp":0.03},{"code":"SUN8","t":59.48,"amp":0.03},{"code":"SUN8","t":59.74,"amp":0.03},
{"code":"SUN9","t":9.7,"amp":0.018},{"code":"SUN9","t":10.25,"amp":0.015},{"code":"SUN9","t":10.77,"amp":0.009},{"code":"SUN9","t":19.62,"amp":0.009},{"code":"SUN9","t":25.44,"amp":0.018},{"code":"SUN9","t":25.51,"amp":0.018},{"code":"SUN9","t":39.87,"amp":0.012},{"code":"SUN9","t":48.36,"amp":0.012},{"code":"SUN9","t":52.24,"amp":0.018},{"code":"SUN9","t":53.15,"amp":0.012},
{"code":"SUNL","t":0.22,"amp":0.012},{"code":"SUNL","t":0.65,"amp":0.009},{"code":"SUNL","t":1.29,"amp":0.012},{"code":"SUNL","t":1.88,"amp":0.018},{"code":"SUNL","t":2.07,"amp":0.018},{"code":"SUNL","t":2.81,"amp":0.012},{"code":"SUNL","t":4.78,"amp":0.024},{"code":"SUNL","t":4.91,"amp":0.024},{"code":"SUNL","t":5.04,"amp":0.024},{"code":"SUNL","t":5.17,"amp":0.024},{"code":"SUNL","t":5.52,"amp":0.018},{"code":"SUNL","t":6.21,"amp":0.018},{"code":"SUNL","t":6.4,"amp":0.018},{"code":"SUNL","t":6.59,"amp":0.018},{"code":"SUNL","t":7.02,"amp":0.012},{"code":"SUNL","t":7.76,"amp":0.015},{"code":"SUNL","t":8.19,"amp":0.009},{"code":"SUNL","t":8.83,"amp":0.018},{"code":"SUNL","t":9.57,"amp":0.018},{"code":"SUNL","t":10.25,"amp":0.018},{"code":"SUNL","t":10.93,"amp":0.024},{"code":"SUNL","t":11.06,"amp":0.03},{"code":"SUNL","t":11.19,"amp":0.06},{"code":"SUNL","t":11.31,"amp":0.036},{"code":"SUNL","t":11.44,"amp":0.024},{"code":"SUNL","t":11.57,"amp":0.024},{"code":"SUNL","t":12.28,"amp":0.012},{"code":"SUNL","t":12.63,"amp":0.018},{"code":"SUNL","t":13.38,"amp":0.018},{"code":"SUNL","t":13.58,"amp":0.018},{"code":"SUNL","t":13.77,"amp":0.018},{"code":"SUNL","t":13.97,"amp":0.018},{"code":"SUNL","t":14.16,"amp":0.018},{"code":"SUNL","t":15.94,"amp":0.009},{"code":"SUNL","t":16.81,"amp":0.015},{"code":"SUNL","t":17.72,"amp":0.018},{"code":"SUNL","t":17.91,"amp":0.018},{"code":"SUNL","t":19.01,"amp":0.018},{"code":"SUNL","t":19.2,"amp":0.018},{"code":"SUNL","t":19.4,"amp":0.018},{"code":"SUNL","t":19.59,"amp":0.018},{"code":"SUNL","t":19.78,"amp":0.018},{"code":"SUNL","t":20.47,"amp":0.012},{"code":"SUNL","t":20.91,"amp":0.018},{"code":"SUNL","t":22.11,"amp":0.012},{"code":"SUNL","t":23.57,"amp":0.015},{"code":"SUNL","t":24.44,"amp":0.015},{"code":"SUNL","t":25.15,"amp":0.024},{"code":"SUNL","t":25.28,"amp":0.024},{"code":"SUNL","t":25.41,"amp":0.036},{"code":"SUNL","t":25.54,"amp":0.024},{"code":"SUNL","t":25.67,"amp":0.024},{"code":"SUNL","t":26.51,"amp":0.018},{"code":"SUNL","t":27.16,"amp":0.015},{"code":"SUNL","t":27.67,"amp":0.012},{"code":"SUNL","t":29.35,"amp":0.018},{"code":"SUNL","t":29.55,"amp":0.018},{"code":"SUNL","t":29.74,"amp":0.018},{"code":"SUNL","t":29.93,"amp":0.018},{"code":"SUNL","t":30.39,"amp":0.012},{"code":"SUNL","t":31.03,"amp":0.015},{"code":"SUNL","t":32.33,"amp":0.009},{"code":"SUNL","t":33.19,"amp":0.018},{"code":"SUNL","t":33.71,"amp":0.012},{"code":"SUNL","t":34.05,"amp":0.015},{"code":"SUNL","t":35.0,"amp":0.009},{"code":"SUNL","t":36.21,"amp":0.009},{"code":"SUNL","t":37.28,"amp":0.012},{"code":"SUNL","t":39.18,"amp":0.018},{"code":"SUNL","t":39.31,"amp":0.018},{"code":"SUNL","t":39.44,"amp":0.018},{"code":"SUNL","t":42.03,"amp":0.012},{"code":"SUNL","t":42.89,"amp":0.012},{"code":"SUNL","t":46.13,"amp":0.015},{"code":"SUNL","t":47.62,"amp":0.018},{"code":"SUNL","t":48.4,"amp":0.015},{"code":"SUNL","t":48.92,"amp":0.018},{"code":"SUNL","t":50.0,"amp":0.012},{"code":"SUNL","t":51.72,"amp":0.012},{"code":"SUNL","t":52.8,"amp":0.009},{"code":"SUNL","t":53.44,"amp":0.012},{"code":"SUNL","t":55.22,"amp":0.018},{"code":"SUNL","t":55.35,"amp":0.018},{"code":"SUNL","t":56.7,"amp":0.012},{"code":"SUNL","t":56.9,"amp":0.012},{"code":"SUNL","t":57.09,"amp":0.012}
]
},
"layer": [
{"data": {"name": "stations"},
 "mark": {"type": "rule", "color": "#0000ff", "strokeCap": "butt"},
 "encoding": {
  "x": {"datum": 0, "type": "quantitative", "scale": {"domain": [0, 60], "nice": false, "zero": false},
   "axis": {"values": [0,5,10,15,20,25,30,35,40,45,50,55,60], "labelExpr": "datum.value == 0 ? '23:59' : (datum.value % 10 == 0 ? '00:' + (datum.value < 11 ? '0' : '') + (datum.value - 1) : '')", "labelFontSize": {"condition": {"test": "datum.value % 30 == 0", "value": 13}, "value": 8}, "labelFont": "DejaVu Sans", "labelColor": "black", "tickColor": "black", "domainColor": "black", "tickSize": -8, "tickWidth": 1, "domainWidth": 1, "labelPadding": 10, "grid": false, "title": null, "labelFlush": false, "labelOverlap": false, "labelBound": false}},
  "x2": {"datum": 60},
  "y": {"field": "slot", "type": "quantitative", "scale": {"domain": [-0.0185, 12.3148], "reverse": true, "nice": false, "zero": false}, "axis": null},
  "size": {"field": "noise", "type": "quantitative", "scale": {"type": "linear", "domain": [0, 0.12], "range": [0, 20], "zero": true}, "legend": null}
 }},
{"data": {"name": "wave"},
 "transform": [{"lookup": "code", "from": {"data": {"name": "stations"}, "key": "code", "fields": ["slot"]}}],
 "mark": {"type": "tick", "orient": "vertical", "thickness": 1.4, "color": "#0000ff", "opacity": 1},
 "encoding": {
  "x": {"field": "t", "type": "quantitative"},
  "y": {"field": "slot", "type": "quantitative", "axis": null},
  "size": {"field": "amp", "type": "quantitative", "scale": {"type": "linear", "domain": [0, 0.12], "range": [0, 20], "zero": true}, "legend": null}
 }},
{"data": {"name": "stations"},
 "mark": {"type": "text", "align": "left", "baseline": "alphabetic", "dy": 4, "fontSize": 11, "font": "DejaVu Sans", "color": "black"},
 "encoding": {"x": {"datum": -12.41, "type": "quantitative"}, "y": {"field": "slot", "type": "quantitative", "axis": null}, "text": {"value": "["}}},
{"data": {"name": "stations"},
 "mark": {"type": "text", "align": "left", "baseline": "alphabetic", "dy": 4, "fontSize": 11, "font": "DejaVu Sans", "color": "black"},
 "encoding": {"x": {"datum": -10.78, "type": "quantitative"}, "y": {"field": "slot", "type": "quantitative", "axis": null}, "text": {"field": "gal", "type": "quantitative", "format": ".2f"}}},
{"data": {"name": "stations"},
 "mark": {"type": "text", "align": "left", "baseline": "alphabetic", "dy": 4, "fontSize": 11, "font": "DejaVu Sans", "color": "black"},
 "encoding": {"x": {"datum": -7.62, "type": "quantitative"}, "y": {"field": "slot", "type": "quantitative", "axis": null}, "text": {"value": "]"}}},
{"data": {"name": "stations"},
 "mark": {"type": "text", "align": "left", "baseline": "alphabetic", "dy": 4, "fontSize": 11, "font": "DejaVu Sans", "color": "black"},
 "encoding": {"x": {"datum": -6.72, "type": "quantitative"}, "y": {"field": "slot", "type": "quantitative", "axis": null}, "text": {"field": "code"}}},
{"data": {"name": "stations"},
 "mark": {"type": "text", "align": "left", "baseline": "alphabetic", "dy": 4, "fontSize": 10.3, "font": "DejaVu Sans", "color": "black"},
 "encoding": {"x": {"datum": 61.59, "type": "quantitative"}, "y": {"field": "slot", "type": "quantitative", "axis": null}, "text": {"field": "lugar"}}},
{"data": {"values": [{}]},
 "mark": {"type": "text", "align": "left", "baseline": "alphabetic", "fontSize": 12, "font": "Liberation Sans", "color": "#0000ff"},
 "encoding": {"x": {"datum": -12.36, "type": "quantitative"}, "y": {"datum": -0.407, "type": "quantitative", "axis": null}, "text": {"value": "Hora Costa Rica:"}}},
{"data": {"values": [{}]},
 "mark": {"type": "text", "align": "left", "baseline": "alphabetic", "fontSize": 12, "font": "Liberation Sans", "color": "#0000ff"},
 "encoding": {"x": {"datum": 1.24, "type": "quantitative"}, "y": {"datum": -0.407, "type": "quantitative", "axis": null}, "text": {"value": "23:59 a 00:59"}}},
{"data": {"values": [{}]},
 "mark": {"type": "text", "align": "left", "baseline": "alphabetic", "fontSize": 12, "font": "Liberation Sans", "color": "#0000ff"},
 "encoding": {"x": {"datum": 19.37, "type": "quantitative"}, "y": {"datum": -0.407, "type": "quantitative", "axis": null}, "text": {"value": "Ultima actualización:"}}},
{"data": {"values": [{}]},
 "mark": {"type": "text", "align": "left", "baseline": "alphabetic", "fontSize": 12, "font": "Liberation Sans", "color": "#0000ff"},
 "encoding": {"x": {"datum": 34.84, "type": "quantitative"}, "y": {"datum": -0.407, "type": "quantitative", "axis": null}, "text": {"value": "10/07/2025 01:00:20 AM"}}},
{"data": {"values": [{}]},
 "mark": {"type": "text", "align": "left", "baseline": "alphabetic", "fontSize": 12, "font": "Liberation Sans", "color": "#0000ff"},
 "encoding": {"x": {"datum": 60.75, "type": "quantitative"}, "y": {"datum": -0.407, "type": "quantitative", "axis": null}, "text": {"value": "Hora UTC:"}}},
{"data": {"values": [{}]},
 "mark": {"type": "text", "align": "left", "baseline": "alphabetic", "fontSize": 12, "font": "Liberation Sans", "color": "#0000ff"},
 "encoding": {"x": {"datum": 69.85, "type": "quantitative"}, "y": {"datum": -0.407, "type": "quantitative", "axis": null}, "text": {"value": "05:59 a 06:59"}}},
{"data": {"values": [{}]},
 "mark": {"type": "text", "align": "left", "baseline": "alphabetic", "fontSize": 12, "font": "Liberation Sans", "color": "#ff0000"},
 "encoding": {"x": {"datum": -12.32, "type": "quantitative"}, "y": {"datum": 0.304, "type": "quantitative", "axis": null}, "text": {"value": "Gal"}}},
{"data": {"values": [{}]},
 "mark": {"type": "text", "align": "left", "baseline": "alphabetic", "fontSize": 12, "font": "Liberation Sans", "color": "#ff0000"},
 "encoding": {"x": {"datum": -7.84, "type": "quantitative"}, "y": {"datum": 0.304, "type": "quantitative", "axis": null}, "text": {"value": "Código"}}},
{"data": {"values": [{}]},
 "mark": {"type": "text", "align": "left", "baseline": "alphabetic", "fontSize": 12, "font": "Liberation Sans", "color": "#ff0000"},
 "encoding": {"x": {"datum": 67.22, "type": "quantitative"}, "y": {"datum": 0.304, "type": "quantitative", "axis": null}, "text": {"value": "Lugar"}}}
]
}
